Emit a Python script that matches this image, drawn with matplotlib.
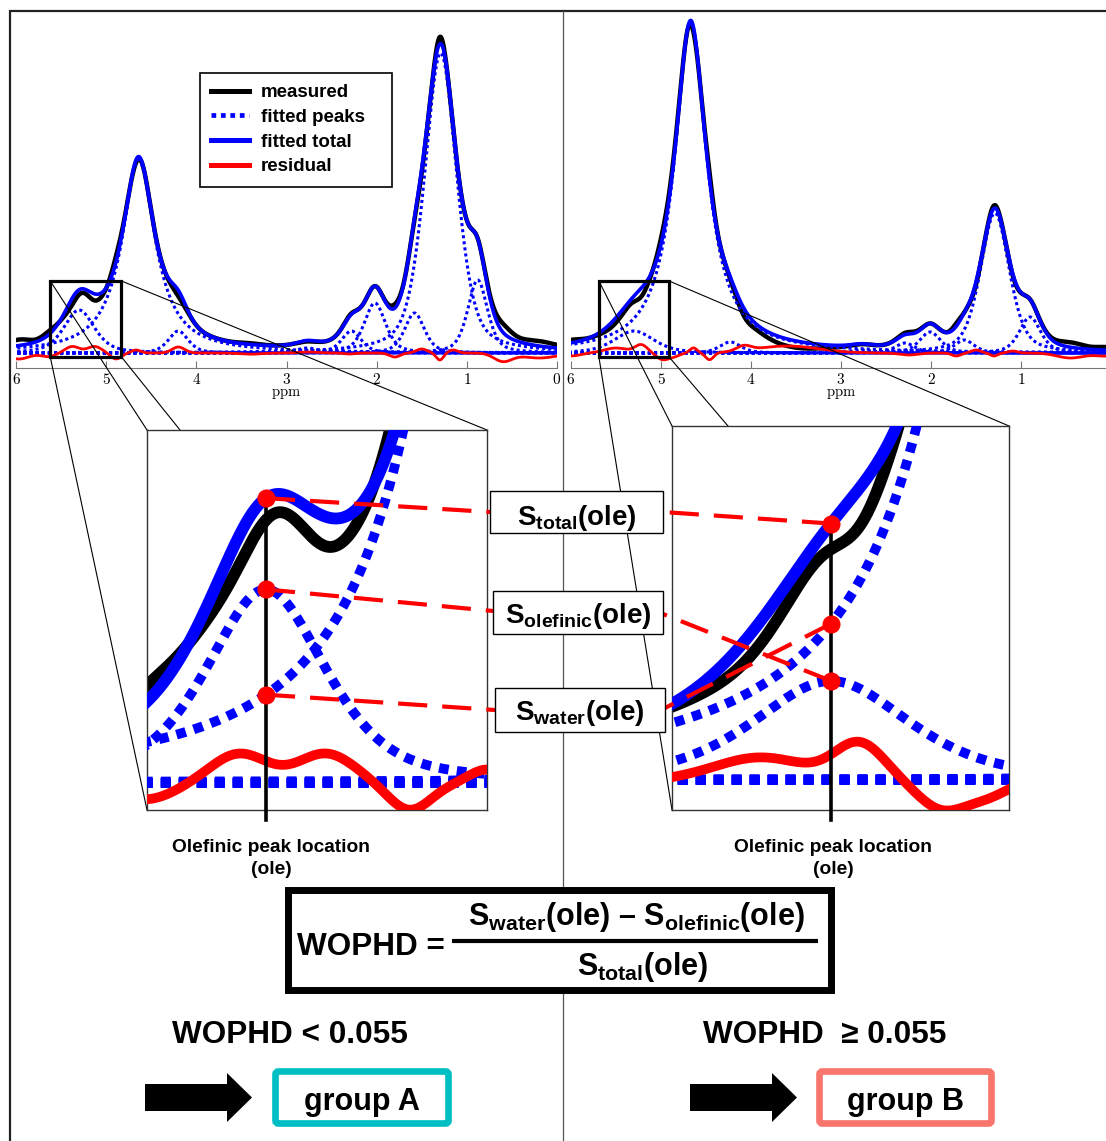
import numpy as np
import matplotlib
matplotlib.use('Agg')
import matplotlib.pyplot as plt
from matplotlib.lines import Line2D
from matplotlib.patches import Rectangle, FancyBboxPatch, Polygon

plt.rcParams['font.family'] = ['Liberation Sans', 'DejaVu Sans']
plt.rcParams['mathtext.fontset'] = 'custom'
plt.rcParams['mathtext.bf'] = 'Liberation Sans:bold'
plt.rcParams['mathtext.rm'] = 'Liberation Sans:bold'

W, H = 1106, 1141

# ---------------- data ----------------
ticks = [6, 5, 4, 3, 2, 1, 0]
legend_labels = ['measured', 'fitted peaks   ', 'fitted total', 'residual']
ole_ppm = 5.30

# group A spectrum: fitted peaks (centre ppm, height, half width, lorentz fraction)
a_ppm = [5.30, 4.64, 4.20, 2.77, 2.28, 2.02, 1.58, 1.29, 0.88]
a_amp = [43, 193, 22, 5, 22, 50, 40, 300, 73]
a_hw = [0.20, 0.222, 0.13, 0.15, 0.13, 0.14, 0.13, 0.21, 0.13]
a_eta = [0.5, 1.0, 0.5, 0.5, 0.5, 0.5, 0.5, 0.45, 0.5]
# group A residual wiggles (fitted total - measured)
a_res_ppm = [5.97, 5.64, 5.375, 5.13, 4.89, 4.67, 4.20, 3.40, 2.75, 2.30, 1.80, 1.50, 1.30, 1.15, 0.60, 0.20]
a_res_amp = [-6, -3.5, 6.5, 6.5, -6, 3, 6, -1.2, 1.0, -1.0, -4, 4, -7, 3, -8, -5]
a_res_w = [0.12, 0.08, 0.08, 0.08, 0.06, 0.05, 0.07, 0.12, 0.10, 0.06, 0.06, 0.06, 0.04, 0.05, 0.10, 0.20]

# group B spectrum
b_ppm = [5.30, 4.67, 4.23, 2.77, 2.29, 2.01, 1.63, 1.29, 0.90]
b_amp = [22, 330, 11, 3, 10, 21, 13, 140, 36]
b_hw = [0.26, 0.216, 0.14, 0.15, 0.13, 0.14, 0.13, 0.19, 0.14]
b_eta = [0.5, 1.0, 0.5, 0.5, 0.5, 0.5, 0.5, 0.45, 0.5]
b_res_ppm = [6.00, 5.50, 5.22, 4.98, 4.85, 4.64, 4.46, 4.08, 3.60, 2.25, 1.72, 1.50, 1.30, 1.09, 0.45, 0.05]
b_res_amp = [-3, 5, 8, -6.5, -3, 5, -7, 5, 7, -2, -3, 3, -3, 2, -5, -3]
b_res_w = [0.10, 0.13, 0.07, 0.07, 0.06, 0.04, 0.045, 0.08, 0.35, 0.10, 0.05, 0.05, 0.04, 0.05, 0.15, 0.12]

x = np.linspace(6.3, -0.3, 3301)


def peak(xv, c, a, w, eta):
    d = (np.asarray(xv) - c) / w
    return a * (eta / (1 + d ** 2) + (1 - eta) * np.exp(-np.log(2) * d ** 2))


def build(pp, aa, ww, ee, rp, ra, rw):
    comps = np.array([peak(x, *p) for p in zip(pp, aa, ww, ee)])
    total = comps.sum(axis=0)
    res = np.zeros_like(x)
    for c, a, w in zip(rp, ra, rw):
        res += a * np.exp(-0.5 * ((x - c) / w) ** 2)
    return comps, total, total - res, res


specA = build(a_ppm, a_amp, a_hw, a_eta, a_res_ppm, a_res_amp, a_res_w)
specB = build(b_ppm, b_amp, b_hw, b_eta, b_res_ppm, b_res_amp, b_res_w)


def draw_spectrum(ax, spec, lw, dots):
    comps, total, meas, res = spec
    ax.plot(x, meas, color='black', lw=lw[0], zorder=2)
    ax.plot(x, total, color='blue', lw=lw[1], zorder=3)
    for c in comps:
        ax.plot(x, c, color='blue', lw=lw[2], ls=(0, dots), zorder=4)
    ax.plot(x, res, color='red', lw=lw[3], zorder=5)


# ---------------- figure ----------------
fig = plt.figure(figsize=(W / 100, H / 100), dpi=100)


def px_axes(x0, y0, x1, y1, z):
    ax = fig.add_axes([x0 / W, 1 - y1 / H, (x1 - x0) / W, (y1 - y0) / H])
    ax.set_zorder(z)
    return ax


axA = px_axes(16, 11, 557, 368, 1)
axB = px_axes(571, 11, 1111, 368, 1)
for ax, spec, tk in ((axA, specA, ticks), (axB, specB, ticks[:-1])):
    draw_spectrum(ax, spec, (3.2, 2.6, 2.2, 2.0), (1, 1))
    ax.set_xlim(6, 0)
    ax.set_ylim(-15, 342)
    ax.set_yticks([])
    for s in ('top', 'left', 'right'):
        ax.spines[s].set_visible(False)
    ax.spines['bottom'].set_color('#777777')
    ax.set_xticks(tk, labels=['$\\mathrm{%d}$' % t for t in tk],
                  math_fontfamily='cm', fontsize=11)
    ax.tick_params(axis='x', direction='in', length=5, color='#777777', pad=3)
    ax.set_xlabel('$\\mathrm{ppm}$', math_fontfamily='cm', fontsize=10.5, labelpad=0)
    ax.patch.set_visible(False)

handles = [Line2D([], [], color='black', lw=3.6),
           Line2D([], [], color='blue', lw=3.4, ls=(0, (1, 1))),
           Line2D([], [], color='blue', lw=3.6),
           Line2D([], [], color='red', lw=3.6)]
leg = axA.legend(handles, legend_labels, loc='upper left',
                 bbox_to_anchor=(200 / W, 1 - 73 / H), bbox_transform=fig.transFigure,
                 borderaxespad=0, fancybox=False, framealpha=1, edgecolor='black',
                 prop={'family': 'Liberation Sans', 'weight': 'bold', 'size': 13.5},
                 handlelength=2.0, handletextpad=0.65, labelspacing=0.4, borderpad=0.6)
leg.get_frame().set_linewidth(1.2)

# zoom rectangles in the spectra
rectA = (5.62, 4.83, -4, 72)
rectB = (5.69, 4.91, -4, 72)
for ax, (p0, p1, h0, h1) in ((axA, rectA), (axB, rectB)):
    ax.add_patch(Rectangle((p1, h0), p0 - p1, h1 - h0, fill=False, ec='black', lw=2.3, zorder=6))

# insets
insA = px_axes(147, 430, 487, 810, 5)
insB = px_axes(672, 426, 1009, 810, 5)
for ax, spec, xl, yl in ((insA, specA, (5.639, 4.670), (-6, 78.4)),
                         (insB, specB, (5.753, 4.793), (-6.7, 78.7))):
    draw_spectrum(ax, spec, (8.5, 8.5, 7, 7), (1, 0.85))
    ax.set_xlim(*xl)
    ax.set_ylim(*yl)
    ax.set_xticks([])
    ax.set_yticks([])
    for s in ax.spines.values():
        s.set_linewidth(1)
        s.set_color('#333333')

# overlays in pixel coordinates (y downwards)
back = px_axes(0, 0, W, H, 2)
front = px_axes(0, 0, W, H, 10)
for ov in (back, front):
    ov.set_xlim(0, W)
    ov.set_ylim(H, 0)
    ov.axis('off')
    ov.patch.set_visible(False)


def to_px(ax, xd, yd):
    return back.transData.inverted().transform(ax.transData.transform((xd, yd)))


# outer frame and divider
back.plot([10, 10, W], [H, 11, 11], color='#222222', lw=1.6, solid_joinstyle='miter')
back.plot([563, 563], [11, H], color='#555555', lw=0.9)

# connector lines from zoom rectangles to insets
for ax, (p0, p1, h0, h1), targets in (
        (axA, rectA, [(147, 430), (147, 810), (180, 430), (487, 430)]),
        (axB, rectB, [(672, 426), (672, 810), (728, 426), (1009, 426)])):
    corners = [(p0, h1), (p0, h0), (p1, h0), (p1, h1)]
    for (cx, cy), (tx, ty) in zip(corners, targets):
        sx, sy = to_px(ax, cx, cy)
        back.plot([sx, tx], [sy, ty], color='black', lw=0.8)

# marked signal values at the olefinic location
boxes = [(490, 491, 663, 533), (493, 591, 663, 634), (495, 688, 665, 732)]
box_labels = ['S$_{\\mathbf{total}}$(ole)', 'S$_{\\mathbf{olefinic}}$(ole)',
              'S$_{\\mathbf{water}}$(ole)']
box_base = [525, 623, 720]
left_ends = [(490, 512), (493, 611), (495, 710)]
right_ends = [(663, 512), (663, 614), (665, 708)]

for ax, pp, aa, ww, ee, ends in ((insA, a_ppm, a_amp, a_hw, a_eta, left_ends),
                                 (insB, b_ppm, b_amp, b_hw, b_eta, right_ends)):
    s_total = sum(peak(ole_ppm, *p) for p in zip(pp, aa, ww, ee))
    s_ole = peak(ole_ppm, pp[0], aa[0], ww[0], ee[0])
    s_water = peak(ole_ppm, pp[1], aa[1], ww[1], ee[1])
    pts = [to_px(ax, ole_ppm, v) for v in (s_total, s_ole, s_water)]
    front.plot([pts[0][0], pts[0][0]], [pts[0][1], 820], color='black', lw=2.6, zorder=1)
    for (px, py), (ex, ey) in zip(pts, ends):
        front.plot([px, ex], [py, ey], color='red', lw=3, dashes=(7, 3.6), zorder=2)
        front.plot(px, py, 'o', color='red', ms=12, zorder=5)

for (x0, y0, x1, y1), lab, base in zip(boxes, box_labels, box_base):
    front.add_patch(Rectangle((x0, y0), x1 - x0, y1 - y0, fc='white', ec='black', lw=1, zorder=3))
    front.text((x0 + x1) / 2, base, lab, ha='center', va='baseline', fontsize=20,
               fontweight='bold', zorder=4)

for cx in (271, 833):
    front.text(cx, 847, 'Olefinic peak location', ha='center', va='center',
               fontsize=13.8, fontweight='bold')
    front.text(cx, 869, '(ole)', ha='center', va='center', fontsize=13.8, fontweight='bold')

# formula
front.add_patch(Rectangle((288, 890), 543, 100, fc='white', ec='black', lw=5, zorder=3,
                          joinstyle='miter'))
front.text(297, 955, 'WOPHD =', ha='left', va='baseline', fontsize=22.7,
           fontweight='bold', zorder=4)
front.plot([452, 818], [941, 941], color='black', lw=3, zorder=4, solid_capstyle='butt')
front.text(636, 925, 'S$_{\\mathbf{water}}$(ole) – S$_{\\mathbf{olefinic}}$(ole)',
           ha='center', va='baseline', fontsize=22, fontweight='bold', zorder=4)
front.text(643, 975, 'S$_{\\mathbf{total}}$(ole)', ha='center', va='baseline',
           fontsize=22, fontweight='bold', zorder=4)

# decision
front.text(172, 1043, 'WOPHD < 0.055', ha='left', va='baseline', fontsize=22.7,
           fontweight='bold')
front.text(703, 1043, 'WOPHD  \u2265 0.055', ha='left', va='baseline', fontsize=22.7,
           fontweight='bold')
for dx in (0, 545):
    front.add_patch(Polygon([(145 + dx, 1084), (227 + dx, 1084), (227 + dx, 1073),
                             (252 + dx, 1097.5), (227 + dx, 1122), (227 + dx, 1111),
                             (145 + dx, 1111)], closed=True, fc='black', ec='none'))
for x0, x1, col, lab in ((275.5, 448.5, '#00BFC4', 'group A'),
                         (819.5, 991.5, '#F8766D', 'group B')):
    front.add_patch(FancyBboxPatch((x0, 1071.5), x1 - x0, 52, fc='white', ec=col, lw=4.8,
                                   boxstyle='round,pad=0,rounding_size=3'))
    front.text((x0 + x1) / 2, 1110, lab, ha='center', va='baseline', fontsize=22,
               fontweight='bold')

fig.savefig('out.png', dpi=100)
